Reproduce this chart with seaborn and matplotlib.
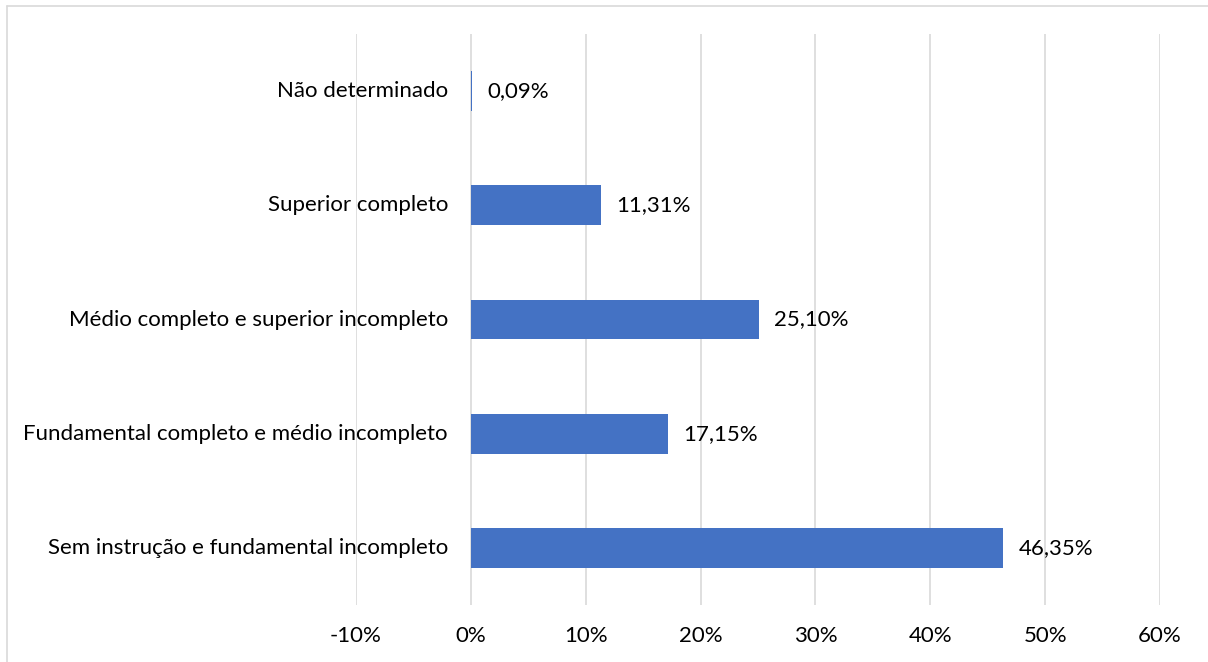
import matplotlib
matplotlib.use("Agg")
import matplotlib.pyplot as plt
from matplotlib.lines import Line2D
import seaborn as sns
import pandas as pd

# Education level distribution (share of total, %)
categories = [
    "Não determinado",
    "Superior completo",
    "Médio completo e superior incompleto",
    "Fundamental completo e médio incompleto",
    "Sem instrução e fundamental incompleto",
]
shares = [0.09, 11.31, 25.10, 17.15, 46.35]
x_ticks = [-10, 0, 10, 20, 30, 40, 50, 60]

sns.set_theme(style="white")
plt.rcParams["font.family"] = ["Lato", "DejaVu Sans"]

FS = 16

df = pd.DataFrame({"categoria": categories, "valor": shares})

fig = plt.figure(figsize=(12.08, 6.62), dpi=100)
ax = fig.add_axes([356 / 1208, 1 - 605 / 662, (1160 - 356) / 1208, (605 - 34) / 662])

sns.barplot(data=df, y="categoria", x="valor", order=categories, orient="h",
            color="#4472C4", saturation=1, width=0.35, linewidth=0, ax=ax, zorder=3)

ax.set_xlim(x_ticks[0], x_ticks[-1])
ax.set_ylim(len(categories) - 0.5, -0.5)
ax.set_xticks(x_ticks)
ax.set_xticklabels([f"{t}%" for t in x_ticks], fontsize=FS, color="#000000")
ax.tick_params(axis="x", length=0, pad=15)
ax.set_yticks([])
ax.set_xlabel("")
ax.set_ylabel("")
for sp in ax.spines.values():
    sp.set_visible(False)
ax.xaxis.grid(True, color="#D9D9D9", linewidth=1.2, zorder=0)
ax.set_axisbelow(True)

# category labels sit next to the zero line
for i, cat in enumerate(categories):
    ax.annotate(cat, xy=(0, i), xytext=(-16.5, 0), textcoords="offset points",
                ha="right", va="center", fontsize=FS, color="#000000")

# value labels at the end of each bar
for i, v in enumerate(shares):
    ax.annotate(f"{v:.2f}%".replace(".", ","), xy=(v, i), xytext=(11, 0),
                textcoords="offset points", ha="left", va="center",
                fontsize=FS, color="#000000")

# thin chart frame (left and top edges)
fig.add_artist(Line2D([7.5 / 1208, 7.5 / 1208], [0, 1 - 5.5 / 662],
                      transform=fig.transFigure, color="#D9D9D9", linewidth=1.2))
fig.add_artist(Line2D([7.5 / 1208, 1], [1 - 5.5 / 662, 1 - 5.5 / 662],
                      transform=fig.transFigure, color="#D9D9D9", linewidth=1.2))

fig.savefig("out.png", dpi=100)
